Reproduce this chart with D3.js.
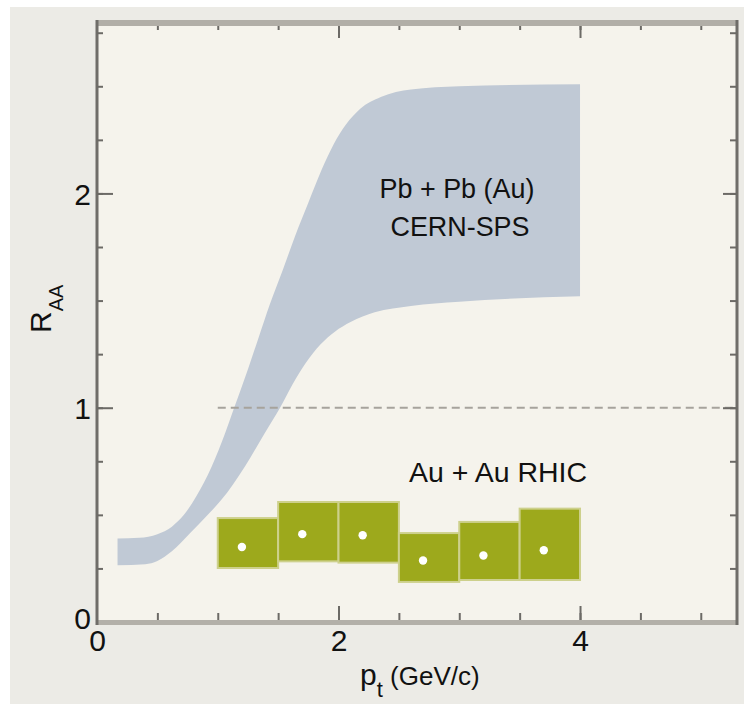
<!DOCTYPE html>
<html>
<head>
<meta charset="utf-8">
<script src="https://cdn.jsdelivr.net/npm/d3@7"></script>
<style>
  body { margin: 0; background: #ffffff; }
  svg text { font-family: "Liberation Sans", Arial, sans-serif; fill: #111; }
</style>
</head>
<body>
<svg id="chart" width="744" height="704"></svg>
<script>
///// Data

// CERN-SPS band, upper and lower edges (pt, R_AA)
let upperX = [0.17, 0.35, 0.50, 0.62, 0.72, 0.82, 0.95, 1.06, 1.13, 1.25, 1.34, 1.43, 1.54, 1.64, 1.75, 1.86, 1.96, 2.06, 2.18, 2.35, 2.6, 3.0, 4.0],
    upperY = [0.39, 0.393, 0.41, 0.445, 0.50, 0.585, 0.726, 0.88, 0.99, 1.18, 1.33, 1.48, 1.645, 1.80, 1.956, 2.11, 2.23, 2.32, 2.395, 2.45, 2.485, 2.50, 2.51];
let lowerX = [0.17, 0.40, 0.50, 0.62, 0.77, 0.90, 1.03, 1.225, 1.39, 1.516, 1.62, 1.73, 1.85, 1.97, 2.1, 2.3, 2.6, 3.0, 4.0],
    lowerY = [0.265, 0.27, 0.285, 0.33, 0.414, 0.49, 0.57, 0.726, 0.882, 1.0, 1.11, 1.21, 1.295, 1.355, 1.40, 1.445, 1.475, 1.495, 1.52];

// Au + Au RHIC points and their boxes
let binStart = [1.0, 1.5, 2.0, 2.5, 3.0, 3.5],
    binEnd = [1.5, 2.0, 2.5, 3.0, 3.5, 4.0],
    rhicPt = [1.2, 1.7, 2.2, 2.7, 3.2, 3.7],
    rhicVal = [0.35, 0.41, 0.405, 0.287, 0.31, 0.335],
    boxTop = [0.485, 0.56, 0.56, 0.415, 0.467, 0.529],
    boxBottom = [0.252, 0.283, 0.277, 0.187, 0.196, 0.196];

let xTickLabels = [0, 2, 4],
    yTickLabels = [0, 1, 2];

///// Layout

let svg = d3.select("#chart");

let x = d3.scaleLinear().domain([0, 5.3]).range([97, 737]);
let y = d3.scaleLinear().domain([0, 2.8]).range([622, 22]);

// outer panel and plot area
svg.append("rect")
    .attr("x", 10).attr("y", 7)
    .attr("width", 734).attr("height", 697)
    .attr("fill", "#ecebe6");

svg.append("rect")
    .attr("x", x(0)).attr("y", y(2.8))
    .attr("width", x(5.3) - x(0)).attr("height", y(0) - y(2.8))
    .attr("fill", "#f5f3ec");

///// SPS band

let upper = upperX.map(function(d, i) { return [d, upperY[i]]; }),
    lower = lowerX.map(function(d, i) { return [d, lowerY[i]]; });

let edge = d3.line()
    .x(function(d) { return x(d[0]); })
    .y(function(d) { return y(d[1]); })
    .curve(d3.curveMonotoneX);

svg.append("path")
    .attr("d", edge(upper) + edge(lower.slice().reverse()).replace("M", "L") + "Z")
    .attr("fill", "#c0c9d5");

///// RHIC boxes

svg.selectAll(".box")
    .data(rhicPt)
    .enter().append("rect")
    .attr("class", "box")
    .attr("x", function(d, i) { return x(binStart[i]); })
    .attr("y", function(d, i) { return y(boxTop[i]); })
    .attr("width", function(d, i) { return x(binEnd[i]) - x(binStart[i]); })
    .attr("height", function(d, i) { return y(boxBottom[i]) - y(boxTop[i]); })
    .attr("fill", "#9da91c")
    .attr("stroke", "#cdd08c")
    .attr("stroke-width", 2);

svg.selectAll(".dot")
    .data(rhicPt)
    .enter().append("circle")
    .attr("class", "dot")
    .attr("cx", function(d) { return x(d); })
    .attr("cy", function(d, i) { return y(rhicVal[i]); })
    .attr("r", 4.2)
    .attr("fill", "#ffffff");

// R_AA = 1 reference
svg.append("line")
    .attr("x1", x(1)).attr("x2", x(5.3))
    .attr("y1", y(1)).attr("y2", y(1))
    .attr("stroke", "#a6a39c")
    .attr("stroke-width", 2)
    .attr("stroke-dasharray", "8,5");

///// Annotations

svg.append("text")
    .attr("x", 457).attr("y", 198)
    .attr("text-anchor", "middle")
    .attr("font-size", 28)
    .attr("textLength", 155).attr("lengthAdjust", "spacingAndGlyphs")
    .text("Pb + Pb (Au)");

svg.append("text")
    .attr("x", 460).attr("y", 236)
    .attr("text-anchor", "middle")
    .attr("font-size", 28)
    .attr("textLength", 139).attr("lengthAdjust", "spacingAndGlyphs")
    .text("CERN-SPS");

svg.append("text")
    .attr("x", 498).attr("y", 482)
    .attr("text-anchor", "middle")
    .attr("font-size", 28)
    .attr("textLength", 178).attr("lengthAdjust", "spacingAndGlyphs")
    .text("Au + Au RHIC");

///// Axes

let tickColor = "#6c6a66";

// frame: light bands top and bottom, dark lines left and right
svg.append("line")
    .attr("x1", x(0)).attr("x2", x(5.3))
    .attr("y1", 23).attr("y2", 23)
    .attr("stroke", "#b1aea7").attr("stroke-width", 6);
svg.append("line")
    .attr("x1", x(0)).attr("x2", x(5.3))
    .attr("y1", 622.5).attr("y2", 622.5)
    .attr("stroke", "#b3b0a9").attr("stroke-width", 5);
svg.append("line")
    .attr("x1", x(0)).attr("x2", x(0))
    .attr("y1", 20).attr("y2", 625)
    .attr("stroke", "#6f6d69").attr("stroke-width", 3);
svg.append("line")
    .attr("x1", x(5.3)).attr("x2", x(5.3))
    .attr("y1", 20).attr("y2", 625)
    .attr("stroke", "#6f6d69").attr("stroke-width", 3);

let xMinor = d3.range(1, 11).map(function(i) { return i * 0.5; }),
    yMinor = d3.range(1, 12).map(function(i) { return i * 0.25; });

function tickAxis(axis, at, values, size) {
    let g = svg.append("g")
        .attr("transform", at)
        .call(axis.tickValues(values).tickSize(size).tickFormat(""));
    g.select(".domain").remove();
    g.selectAll(".tick line").attr("stroke", tickColor).attr("stroke-width", 2);
}

// inward ticks on all four sides
tickAxis(d3.axisTop(x), "translate(0,620)", xMinor, 7);
tickAxis(d3.axisTop(x), "translate(0,620)", [2, 4], 14);
tickAxis(d3.axisBottom(x), "translate(0,26)", xMinor, 4);
tickAxis(d3.axisBottom(x), "translate(0,26)", [2, 4], 12);
tickAxis(d3.axisRight(y), "translate(" + x(0) + ",0)", yMinor, 6);
tickAxis(d3.axisRight(y), "translate(" + x(0) + ",0)", [1, 2], 16);
tickAxis(d3.axisLeft(y), "translate(" + x(5.3) + ",0)", yMinor, 7);
tickAxis(d3.axisLeft(y), "translate(" + x(5.3) + ",0)", [1, 2], 14);

// tick labels
let xLab = svg.append("g")
    .attr("transform", "translate(0,622)")
    .call(d3.axisBottom(x).tickValues(xTickLabels).tickSize(0).tickFormat(d3.format("d")));
xLab.select(".domain").remove();
xLab.selectAll("text")
    .attr("y", 29).attr("dy", null)
    .attr("font-size", 30).attr("font-family", null).attr("fill", "#111");

let yLab = svg.append("g")
    .attr("transform", "translate(" + x(0) + ",0)")
    .call(d3.axisLeft(y).tickValues(yTickLabels).tickSize(0).tickFormat(d3.format("d")));
yLab.select(".domain").remove();
yLab.selectAll("text")
    .attr("x", -6).attr("dy", "0.36em")
    .attr("font-size", 30).attr("font-family", null).attr("fill", "#111");
yLab.selectAll(".tick").filter(function(d) { return d === 0; })
    .select("text").attr("dy", "0.22em");

// axis titles
let yTitle = svg.append("text")
    .attr("transform", "translate(51,333) rotate(-90)")
    .attr("font-size", 30);
yTitle.append("tspan").text("R");
yTitle.append("tspan").attr("font-size", 20).attr("dy", 12).text("AA");

let xTitle = svg.append("text")
    .attr("x", 360).attr("y", 685)
    .attr("font-size", 30);
xTitle.append("tspan").text("p");
xTitle.append("tspan").attr("font-size", 22).attr("dy", 12).text("t");
xTitle.append("tspan").attr("font-size", 26).attr("dy", -12).text(" (GeV/c)");
</script>
</body>
</html>
